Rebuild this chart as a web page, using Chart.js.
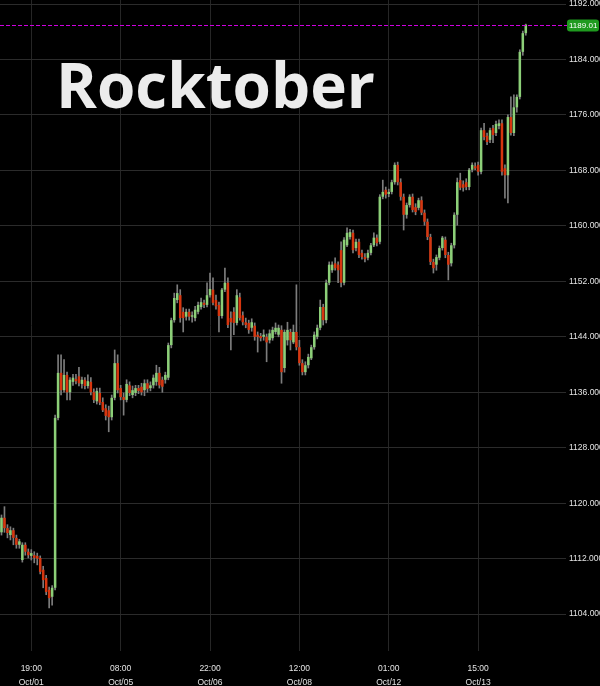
<!DOCTYPE html>
<html lang="en">
<head>
<meta charset="UTF-8">
<title>Rocktober</title>
<style>
  html, body { margin: 0; padding: 0; background: #000; }
  #wrap { position: relative; width: 600px; height: 686px; background: #000; overflow: hidden; }
  #title {
    position: absolute; left: 56px; top: 53px;
    font-family: 'Open Sans', sans-serif; font-weight: 700; font-size: 62px;
    line-height: 1; color: #ececec; pointer-events: none;
  }
</style>
</head>
<body>
<div id="wrap">
  <canvas id="chart" width="600" height="686"></canvas>
  <div id="title">Rocktober</div>
</div>

<script src="https://cdn.jsdelivr.net/npm/chart.js@4.4.0/dist/chart.umd.min.js"></script>
<script>
// hourly candles, Oct 1 - Oct 13
const opens = [
  1115.8, 1117.9, 1116.4, 1115.4, 1116.1, 1115.0, 1114.0, 1111.8, 1114.0, 1113.0,
  1112.4, 1112.5, 1112.4, 1112.1, 1110.4, 1109.2, 1107.5, 1106.5, 1107.8, 1132.3,
  1138.8, 1136.3, 1138.5, 1136.0, 1137.5, 1137.9, 1138.3, 1137.2, 1137.8, 1136.9,
  1137.5, 1136.0, 1134.7, 1135.9, 1134.6, 1133.7, 1133.4, 1132.4, 1135.2, 1140.2,
  1136.6, 1135.3, 1134.9, 1137.0, 1135.6, 1135.9, 1136.6, 1136.8, 1136.3, 1137.3,
  1136.6, 1137.0, 1137.5, 1138.8, 1137.8, 1137.8, 1138.1, 1142.8, 1146.4, 1149.3,
  1150.0, 1147.6, 1146.9, 1147.6, 1146.9, 1146.7, 1147.6, 1148.3, 1148.9, 1148.6,
  1150.0, 1150.8, 1149.3, 1148.6, 1147.0, 1150.8, 1151.8, 1146.7, 1147.6, 1146.0,
  1149.7, 1147.1, 1146.1, 1146.0, 1145.3, 1145.6, 1144.3, 1144.1, 1144.0, 1144.0,
  1143.5, 1143.8, 1144.7, 1144.3, 1145.0, 1139.5, 1143.5, 1144.7, 1143.2, 1144.7,
  1142.5, 1140.2, 1138.9, 1139.9, 1140.9, 1142.5, 1144.0, 1145.3, 1148.3, 1146.4,
  1151.8, 1153.6, 1154.6, 1154.4, 1156.5, 1151.8, 1157.2, 1158.4, 1159.0, 1156.8,
  1157.7, 1156.1, 1155.5, 1155.4, 1156.1, 1157.2, 1158.3, 1157.7, 1164.2, 1165.2,
  1164.6, 1164.9, 1166.3, 1168.8, 1166.3, 1164.2, 1161.6, 1163.0, 1164.2, 1162.7,
  1162.6, 1163.7, 1161.9, 1160.6, 1158.4, 1154.8, 1154.4, 1155.4, 1156.8, 1158.0,
  1155.8, 1154.6, 1157.2, 1161.6, 1166.6, 1166.0, 1166.3, 1165.6, 1168.1, 1168.6,
  1168.8, 1167.8, 1173.8, 1173.0, 1172.4, 1174.1, 1173.4, 1174.4, 1174.8, 1168.3,
  1167.3, 1175.7, 1173.4, 1177.1, 1178.6, 1185.1, 1187.8
];
const highs = [
  1118.3, 1119.5, 1116.9, 1116.6, 1116.4, 1115.4, 1114.8, 1114.3, 1114.3, 1113.4,
  1113.3, 1113.0, 1112.8, 1112.4, 1110.9, 1109.6, 1107.9, 1108.1, 1132.7, 1141.4,
  1141.4, 1140.7, 1138.9, 1138.1, 1138.6, 1138.6, 1139.6, 1138.2, 1138.1, 1138.5,
  1138.1, 1136.5, 1136.6, 1136.6, 1135.2, 1134.2, 1134.0, 1135.6, 1142.1, 1141.4,
  1137.0, 1135.9, 1137.8, 1137.5, 1136.9, 1137.0, 1137.0, 1137.3, 1137.8, 1137.8,
  1137.5, 1138.5, 1139.9, 1139.6, 1138.2, 1138.9, 1143.1, 1146.7, 1150.3, 1151.5,
  1150.8, 1148.2, 1148.0, 1148.0, 1147.6, 1148.4, 1149.0, 1149.6, 1149.3, 1151.8,
  1153.2, 1152.5, 1150.0, 1149.0, 1151.0, 1153.9, 1152.5, 1147.6, 1148.2, 1150.8,
  1150.3, 1147.6, 1146.7, 1146.4, 1146.6, 1146.0, 1144.7, 1144.5, 1145.0, 1144.4,
  1145.0, 1145.4, 1146.0, 1145.7, 1145.6, 1145.0, 1146.1, 1145.1, 1145.7, 1151.5,
  1143.5, 1140.7, 1140.4, 1141.5, 1142.8, 1144.7, 1145.7, 1149.3, 1148.7, 1152.2,
  1154.8, 1154.8, 1155.4, 1154.8, 1157.7, 1158.3, 1159.7, 1159.5, 1159.4, 1158.1,
  1158.1, 1156.5, 1156.0, 1156.5, 1157.5, 1159.0, 1158.7, 1164.5, 1166.6, 1165.6,
  1165.3, 1166.6, 1169.1, 1169.2, 1166.8, 1164.6, 1163.3, 1164.5, 1164.6, 1163.2,
  1164.0, 1164.2, 1162.3, 1161.0, 1158.8, 1155.2, 1155.8, 1157.1, 1158.5, 1158.4,
  1156.2, 1157.5, 1161.9, 1166.9, 1167.6, 1166.5, 1166.8, 1168.3, 1169.1, 1169.1,
  1169.2, 1174.1, 1174.8, 1173.4, 1174.1, 1174.5, 1175.1, 1175.3, 1175.3, 1168.8,
  1176.0, 1178.6, 1178.9, 1178.9, 1185.4, 1188.1, 1189.1
];
const lows = [
  1115.4, 1115.8, 1115.0, 1114.7, 1114.0, 1113.5, 1113.5, 1111.5, 1112.5, 1112.1,
  1111.8, 1111.4, 1111.1, 1109.8, 1107.8, 1106.8, 1104.9, 1105.3, 1107.5, 1132.0,
  1135.6, 1136.0, 1134.9, 1134.9, 1137.0, 1137.2, 1136.9, 1136.6, 1136.5, 1136.6,
  1135.6, 1134.5, 1134.3, 1134.2, 1133.2, 1132.0, 1130.3, 1132.0, 1134.9, 1135.9,
  1134.9, 1132.7, 1134.6, 1135.5, 1135.2, 1135.5, 1135.8, 1135.6, 1135.5, 1136.0,
  1136.2, 1136.6, 1137.0, 1136.6, 1136.0, 1137.3, 1137.8, 1142.4, 1146.1, 1148.9,
  1146.1, 1144.7, 1146.4, 1146.4, 1146.1, 1146.3, 1147.3, 1148.0, 1148.2, 1148.3,
  1149.7, 1148.6, 1148.0, 1144.7, 1146.7, 1150.5, 1145.3, 1142.1, 1144.3, 1145.7,
  1146.4, 1145.7, 1145.3, 1144.5, 1144.8, 1143.5, 1141.8, 1143.4, 1143.5, 1140.4,
  1143.1, 1143.5, 1144.4, 1144.0, 1137.3, 1138.9, 1142.8, 1142.1, 1143.0, 1142.1,
  1139.9, 1138.5, 1138.5, 1139.5, 1140.7, 1142.2, 1143.7, 1145.0, 1145.7, 1146.0,
  1151.5, 1153.3, 1153.6, 1151.8, 1151.2, 1151.5, 1157.0, 1158.1, 1156.1, 1156.4,
  1155.4, 1155.2, 1154.8, 1155.1, 1155.8, 1157.0, 1157.1, 1157.4, 1163.9, 1164.0,
  1164.2, 1164.6, 1166.0, 1165.9, 1163.7, 1159.4, 1161.1, 1162.7, 1162.0, 1161.6,
  1162.3, 1161.6, 1160.1, 1158.0, 1154.4, 1153.2, 1153.6, 1155.1, 1156.5, 1155.4,
  1152.2, 1154.2, 1156.8, 1160.1, 1165.2, 1165.0, 1165.2, 1165.2, 1167.8, 1168.1,
  1167.3, 1167.5, 1172.4, 1171.7, 1172.0, 1172.0, 1173.0, 1174.0, 1167.3, 1164.0,
  1163.3, 1173.1, 1173.0, 1176.4, 1178.3, 1184.6, 1187.5
];
const closes = [
  1117.9, 1116.4, 1115.7, 1116.1, 1115.0, 1114.0, 1114.5, 1114.0, 1113.0, 1112.5,
  1112.8, 1112.1, 1112.0, 1110.1, 1108.9, 1107.2, 1106.3, 1107.8, 1132.3, 1138.8,
  1136.3, 1138.5, 1136.0, 1137.8, 1138.1, 1137.6, 1137.3, 1137.8, 1136.9, 1137.6,
  1136.0, 1134.9, 1136.2, 1134.5, 1133.4, 1132.6, 1132.4, 1135.2, 1140.2, 1136.3,
  1135.3, 1134.9, 1137.2, 1135.9, 1136.3, 1136.6, 1136.2, 1136.0, 1137.3, 1136.5,
  1137.0, 1138.1, 1138.8, 1137.0, 1136.8, 1138.5, 1142.8, 1146.4, 1149.6, 1150.3,
  1146.7, 1146.7, 1147.6, 1146.9, 1147.1, 1147.9, 1148.6, 1149.0, 1148.6, 1150.0,
  1150.9, 1148.9, 1148.4, 1147.0, 1150.8, 1151.8, 1145.7, 1146.1, 1146.0, 1150.0,
  1146.7, 1146.1, 1145.7, 1145.0, 1146.1, 1144.0, 1144.0, 1143.8, 1144.3, 1143.2,
  1144.5, 1145.0, 1145.3, 1145.3, 1138.9, 1144.7, 1145.0, 1143.5, 1144.7, 1142.5,
  1140.2, 1138.9, 1139.9, 1141.1, 1142.5, 1144.3, 1145.3, 1148.3, 1146.4, 1151.8,
  1154.4, 1154.4, 1153.9, 1153.6, 1151.8, 1158.0, 1159.0, 1159.1, 1156.5, 1157.7,
  1155.8, 1155.5, 1155.2, 1156.1, 1157.2, 1158.3, 1157.5, 1164.2, 1164.9, 1164.5,
  1164.9, 1166.3, 1168.8, 1166.3, 1164.2, 1161.6, 1163.0, 1164.2, 1162.3, 1162.0,
  1163.7, 1161.9, 1160.6, 1158.4, 1154.8, 1153.9, 1155.5, 1156.8, 1158.3, 1155.8,
  1154.4, 1157.2, 1161.6, 1166.3, 1165.5, 1165.5, 1165.6, 1168.1, 1168.8, 1168.3,
  1167.8, 1173.8, 1172.8, 1172.1, 1173.8, 1173.1, 1174.7, 1174.8, 1167.8, 1167.3,
  1175.7, 1173.4, 1177.1, 1178.6, 1185.1, 1187.8, 1189.01
];

// x axis: one slot per candle plus some empty room on the right
const slotCount = 190;
const tickSlots = [10, 40, 70, 100, 130, 160];
const tickLabels = [
  ['19:00', 'Oct/01'], ['08:00', 'Oct/05'], ['22:00', 'Oct/06'],
  ['12:00', 'Oct/08'], ['01:00', 'Oct/12'], ['15:00', 'Oct/13']
];
const yTicks = [1104, 1112, 1120, 1128, 1136, 1144, 1152, 1160, 1168, 1176, 1184, 1192];
const yMin = 1098.68;
const yMax = 1192.58;

const upColor = '#8ccf78';
const downColor = '#d7360f';
const wickColor = '#7d7d7d';

const categories = [];
for (let i = 0; i < slotCount; i++) categories.push(i);

const bodies = opens.map((o, i) => [o, closes[i]]);
const wicks = lows.map((l, i) => [l, highs[i]]);
const bodyColors = opens.map((o, i) => closes[i] >= o ? upColor : downColor);
const lastPrice = closes[closes.length - 1];

const lastPricePlugin = {
  id: 'lastPrice',
  afterDatasetsDraw(chart) {
    const { ctx, chartArea, scales: { y } } = chart;
    const py = Math.round(y.getPixelForValue(lastPrice)) + 0.5;
    ctx.save();
    ctx.strokeStyle = '#d000e0';
    ctx.lineWidth = 1;
    ctx.setLineDash([4, 2]);
    ctx.beginPath();
    ctx.moveTo(chartArea.left, py);
    ctx.lineTo(chartArea.right + 1, py);
    ctx.stroke();
    ctx.setLineDash([]);

    // price badge
    const bx = chartArea.right + 1, bw = 32, bh = 12;
    ctx.fillStyle = '#1f9a1f';
    ctx.beginPath();
    ctx.roundRect(bx, py - bh / 2, bw, bh, 3);
    ctx.fill();
    ctx.fillStyle = '#ffffff';
    ctx.font = '8px "Liberation Sans", Arial, sans-serif';
    ctx.textBaseline = 'middle';
    ctx.textAlign = 'left';
    ctx.fillText(lastPrice.toFixed(2), bx + 2, py + 0.5);
    ctx.restore();
  }
};

const ctx = document.getElementById('chart');

new Chart(ctx, {
  type: 'bar',
  data: {
    labels: categories,
    datasets: [
      {
        label: 'body',
        data: bodies,
        backgroundColor: bodyColors,
        barPercentage: 0.85,
        categoryPercentage: 1,
        grouped: false,
        minBarLength: 1
      },
      {
        label: 'wick',
        data: wicks,
        backgroundColor: wickColor,
        barThickness: 1,
        grouped: false
      }
    ]
  },
  options: {
    responsive: false,
    animation: false,
    layout: { padding: 0 },
    plugins: {
      legend: { display: false },
      tooltip: { enabled: false }
    },
    scales: {
      x: {
        grid: { color: '#262626', offset: false, drawTicks: false },
        border: { display: false },
        ticks: {
          autoSkip: false,
          maxRotation: 0,
          color: '#e4e4e4',
          padding: 11,
          font: { family: '"Liberation Sans", Arial, sans-serif', size: 8.5, lineHeight: 1.65 },
          callback: function (value, index) {
            const k = tickSlots.indexOf(index);
            return k < 0 ? null : tickLabels[k];
          }
        },
        afterFit: function (scale) {
          scale.height = 35;
          scale.paddingLeft = 0;
          scale.paddingRight = 0;
        }
      },
      y: {
        position: 'right',
        min: yMin,
        max: yMax,
        grid: { color: '#2b2b2b', drawTicks: false },
        border: { display: false },
        afterBuildTicks: function (scale) {
          scale.ticks = yTicks.map(v => ({ value: v }));
        },
        ticks: {
          color: '#e4e4e4',
          padding: 3,
          font: { family: '"Liberation Sans", Arial, sans-serif', size: 8.5 },
          callback: v => v.toFixed(4)
        },
        afterFit: function (scale) {
          scale.width = 34;
          scale.paddingTop = 0;
          scale.paddingBottom = 0;
        }
      }
    }
  },
  plugins: [lastPricePlugin]
});
</script>
</body>
</html>
